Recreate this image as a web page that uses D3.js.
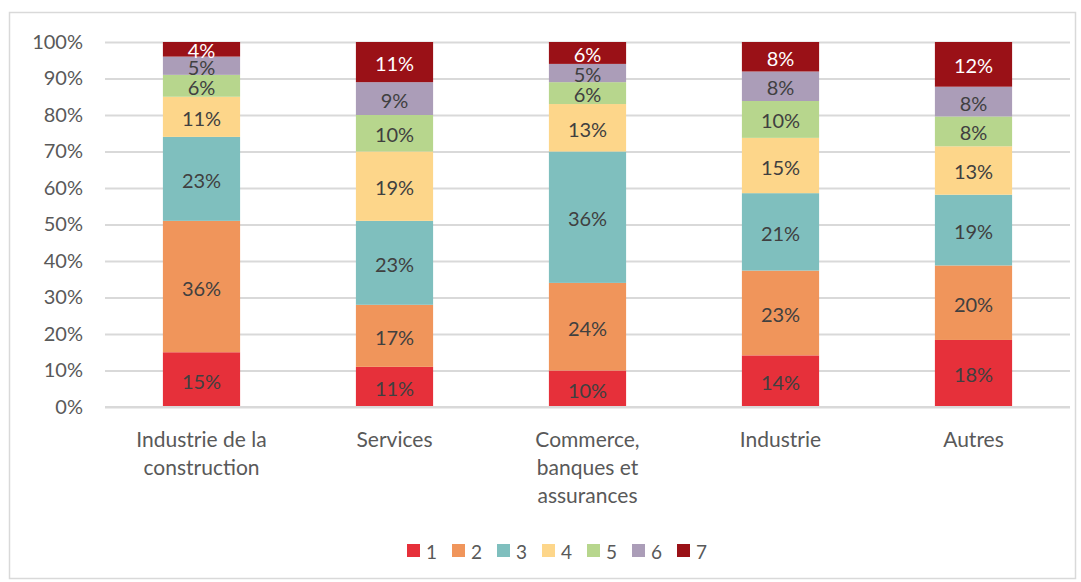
<!DOCTYPE html>
<html>
<head>
<meta charset="utf-8">
<script src="https://cdn.jsdelivr.net/npm/d3@7"></script>
<style>
  body { margin: 0; background: #fff; }
  svg { display: block; font-family: "Lato", "Open Sans", sans-serif; }
</style>
</head>
<body>
<div id="chart"></div>
<script>
// categories and series (percent shares)
const categories = ['Industrie de la construction', 'Services', 'Commerce, banques et assurances', 'Industrie', 'Autres'];
const categoryLines = [['Industrie de la', 'construction'], ['Services'], ['Commerce,', 'banques et', 'assurances'], ['Industrie'], ['Autres']];
const seriesNames = ['1', '2', '3', '4', '5', '6', '7'];
const s1 = [15, 11, 10, 14, 18];
const s2 = [36, 17, 24, 23, 20];
const s3 = [23, 23, 36, 21, 19];
const s4 = [11, 19, 13, 15, 13];
const s5 = [6, 10, 6, 10, 8];
const s6 = [5, 9, 5, 8, 8];
const s7 = [4, 11, 6, 8, 12];
const yTicks = [0, 0.1, 0.2, 0.3, 0.4, 0.5, 0.6, 0.7, 0.8, 0.9, 1];

const colors = ['#e6303a', '#f0955b', '#7fbfbe', '#fdd68a', '#b7d68d', '#ab9db8', '#9a1117'];
const labelColors = ['#404040', '#404040', '#404040', '#404040', '#404040', '#404040', '#ffffff'];

const width = 1081, height = 582;
const margin = { top: 42, right: 11, bottom: 175, left: 105 };
const innerW = width - margin.left - margin.right;
const innerH = height - margin.top - margin.bottom;

const allSeries = [s1, s2, s3, s4, s5, s6, s7];
const rows = categories.map((c, i) => {
    const r = { cat: c };
    seriesNames.forEach((n, k) => { r[n] = allSeries[k][i]; });
    return r;
});

const stacked = d3.stack()
    .keys(seriesNames)
    .offset(d3.stackOffsetExpand)(rows);

const svg = d3.select('#chart').append('svg')
    .attr('width', width)
    .attr('height', height);

// outer frame
svg.append('rect')
    .attr('x', 9.5).attr('y', 12.5)
    .attr('width', 1066).attr('height', 566)
    .attr('fill', 'none')
    .attr('stroke', '#d9d9d9')
    .attr('stroke-width', 1.5);

const g = svg.append('g')
    .attr('transform', `translate(${margin.left},${margin.top})`);

const x = d3.scaleBand()
    .domain(categories)
    .range([0, innerW])
    .paddingInner(0.6)
    .paddingOuter(0.3);

const y = d3.scaleLinear()
    .domain([0, 1])
    .range([innerH, 0]);

// gridlines + y labels
const gy = g.append('g')
    .call(d3.axisLeft(y).tickValues(yTicks).tickFormat(d3.format('.0%')).tickSize(-innerW).tickPadding(22));
gy.select('.domain').remove();
gy.selectAll('.tick line').attr('stroke', '#d9d9d9').attr('stroke-width', 2);
gy.selectAll('.tick text')
    .attr('fill', '#595959')
    .attr('font-size', 20)
    .attr('font-family', 'Lato, sans-serif');

// bars
stacked.forEach((layer, k) => {
    const lg = g.append('g');
    lg.selectAll('rect')
        .data(layer)
        .join('rect')
        .attr('x', d => x(d.data.cat))
        .attr('y', d => y(d[1]))
        .attr('width', x.bandwidth())
        .attr('height', d => y(d[0]) - y(d[1]))
        .attr('fill', colors[k]);
    lg.selectAll('text')
        .data(layer)
        .join('text')
        .attr('x', d => x(d.data.cat) + x.bandwidth() / 2)
        .attr('y', d => (y(d[0]) + y(d[1])) / 2 + 1)
        .attr('text-anchor', 'middle')
        .attr('dominant-baseline', 'central')
        .attr('font-size', 20)
        .attr('fill', labelColors[k])
        .text(d => d.data[seriesNames[k]] + '%');
});

// x axis line
g.append('line')
    .attr('x1', 0).attr('x2', innerW)
    .attr('y1', innerH).attr('y2', innerH)
    .attr('stroke', '#d9d9d9').attr('stroke-width', 2);

// category labels
categories.forEach((c, i) => {
    const t = g.append('text')
        .attr('x', x(c) + x.bandwidth() / 2)
        .attr('y', innerH + 40)
        .attr('text-anchor', 'middle')
        .attr('font-size', 21)
        .attr('fill', '#595959');
    categoryLines[i].forEach((line, j) => {
        t.append('tspan')
            .attr('x', x(c) + x.bandwidth() / 2)
            .attr('dy', j === 0 ? 0 : 28)
            .text(line);
    });
});

// legend
const legend = svg.append('g').attr('transform', 'translate(407,550)');
seriesNames.forEach((n, k) => {
    const item = legend.append('g').attr('transform', `translate(${k * 45},0)`);
    item.append('rect')
        .attr('x', 0).attr('y', -6)
        .attr('width', 13).attr('height', 13)
        .attr('fill', colors[k]);
    item.append('text')
        .attr('x', 19).attr('y', 1)
        .attr('dominant-baseline', 'central')
        .attr('font-size', 19)
        .attr('fill', '#595959')
        .text(n);
});
</script>
</body>
</html>
